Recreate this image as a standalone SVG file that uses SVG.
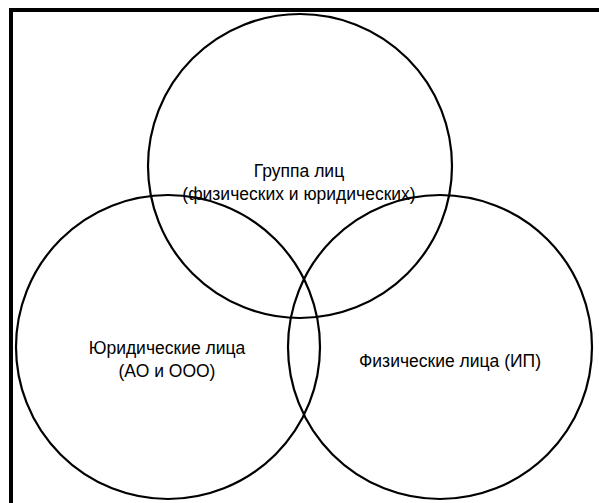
<svg xmlns="http://www.w3.org/2000/svg" width="599" height="503" viewBox="0 0 599 503">
<style>
.c{fill:none;stroke:#000;stroke-width:2.2}
.t{font-family:"Liberation Sans",Arial,sans-serif;font-size:17.5px;fill:#000;text-anchor:middle}
.f{fill:none;stroke:#000;stroke-width:4}
</style>
<rect width="599" height="503" fill="#fff"/>
<g id="frame">
<path class="f" d="M11,503 V10 H599"/>
</g>
<g id="top">
<circle class="c" cx="300" cy="166" r="152"/>
<text class="t" x="299" y="177">Группа лиц</text>
<text class="t" x="299" y="200">(физических и юридических)</text>
</g>
<g id="left">
<circle class="c" cx="168" cy="347" r="152"/>
<text class="t" x="167" y="354">Юридические лица</text>
<text class="t" x="167" y="377">(АО и ООО)</text>
</g>
<g id="right">
<circle class="c" cx="440" cy="347" r="152"/>
<text class="t" x="450" y="367">Физические лица (ИП)</text>
</g>
<g id="connectors"/>
</svg>
